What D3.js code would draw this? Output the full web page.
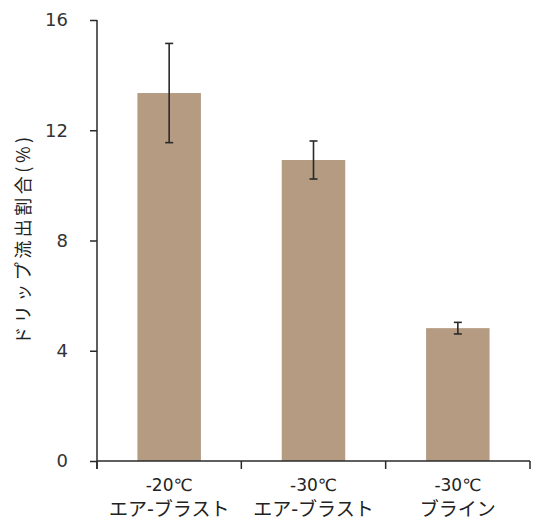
<!DOCTYPE html>
<html>
<head>
<meta charset="utf-8">
<script src="https://cdn.jsdelivr.net/npm/d3@7"></script>
<style>
  body { margin: 0; background: #fff; }
  svg { display: block; }
</style>
</head>
<body>
<svg id="chart" width="536" height="521"></svg>
<script>
// Drip loss ratio by freezing method
const categories = ["-20℃|エア-ブラスト", "-30℃|エア-ブラスト", "-30℃|ブライン"];
const means = [13.35, 10.92, 4.82];
const errors = [1.8, 0.69, 0.21];
const yTicks = [0, 4, 8, 12, 16];
const yTitle = "ドリップ流出割合(%)";

const svg = d3.select("#chart");
const margin = { left: 97, right: 6, top: 20, bottom: 60 };
const W = 536, H = 521;
const x0 = margin.left, x1 = W - margin.right;
const yBase = H - margin.bottom;

const x = d3.scaleBand().domain(categories).range([x0, x1]).paddingInner(0.56).paddingOuter(0.28);
const y = d3.scaleLinear().domain([0, 16]).range([yBase, margin.top]);

const font = "'DejaVu Sans', 'Noto Sans CJK JP', sans-serif";
const ink = "#2a2a2a";

// bars
svg.append("g").selectAll("rect").data(categories).join("rect")
  .attr("x", d => x(d))
  .attr("width", x.bandwidth())
  .attr("y", (d, i) => y(means[i]))
  .attr("height", (d, i) => y(0) - y(means[i]))
  .attr("fill", "#b49b82");

// error bars
const eb = svg.append("g").attr("stroke", ink).attr("stroke-width", 1.6).attr("fill", "none");
categories.forEach((c, i) => {
  const cx = x(c) + x.bandwidth() / 2;
  const top = y(means[i] + errors[i]), bot = y(means[i] - errors[i]);
  eb.append("line").attr("x1", cx).attr("x2", cx).attr("y1", top).attr("y2", bot);
  eb.append("line").attr("x1", cx - 4).attr("x2", cx + 4).attr("y1", top).attr("y2", top);
  eb.append("line").attr("x1", cx - 4).attr("x2", cx + 4).attr("y1", bot).attr("y2", bot);
});

// y axis
const yAxis = svg.append("g").attr("transform", `translate(${x0},0)`)
  .call(d3.axisLeft(y).tickValues(yTicks).tickSize(7).tickPadding(22).tickSizeOuter(0));
yAxis.select(".domain").attr("stroke", ink).attr("stroke-width", 1.5)
  .attr("d", `M0,${y(16)}V${yBase + 8}`);
yAxis.selectAll(".tick line").attr("stroke", ink).attr("stroke-width", 1.5);
yAxis.selectAll(".tick text").attr("font-family", font).attr("font-size", 18).attr("fill", "#333");

// x axis: boundaries between categories carry downward ticks
const bounds = [x0, x0 + (x1 - x0) / 3, x0 + 2 * (x1 - x0) / 3, x1];
const xg = svg.append("g").attr("stroke", ink).attr("stroke-width", 1.5);
xg.append("line").attr("x1", x0).attr("x2", x1).attr("y1", yBase).attr("y2", yBase);
bounds.forEach(b => xg.append("line").attr("x1", b).attr("x2", b).attr("y1", yBase).attr("y2", yBase + 8));

// category labels
const lab = svg.append("g").attr("font-family", font).attr("fill", "#222").attr("text-anchor", "middle");
categories.forEach(c => {
  const [a, b] = c.split("|");
  const cx = x(c) + x.bandwidth() / 2;
  lab.append("text").attr("x", cx).attr("y", 491).attr("font-size", 17).text(a);
  lab.append("text").attr("x", cx).attr("y", 516).attr("font-size", 19).text(b);
});

// y title
svg.append("text")
  .attr("transform", `translate(30,239) rotate(-90)`)
  .attr("text-anchor", "middle")
  .attr("font-family", "'Noto Sans CJK JP', sans-serif")
  .attr("font-size", 18)
  .attr("letter-spacing", 3.5)
  .attr("fill", "#222")
  .text(yTitle);
</script>
</body>
</html>
